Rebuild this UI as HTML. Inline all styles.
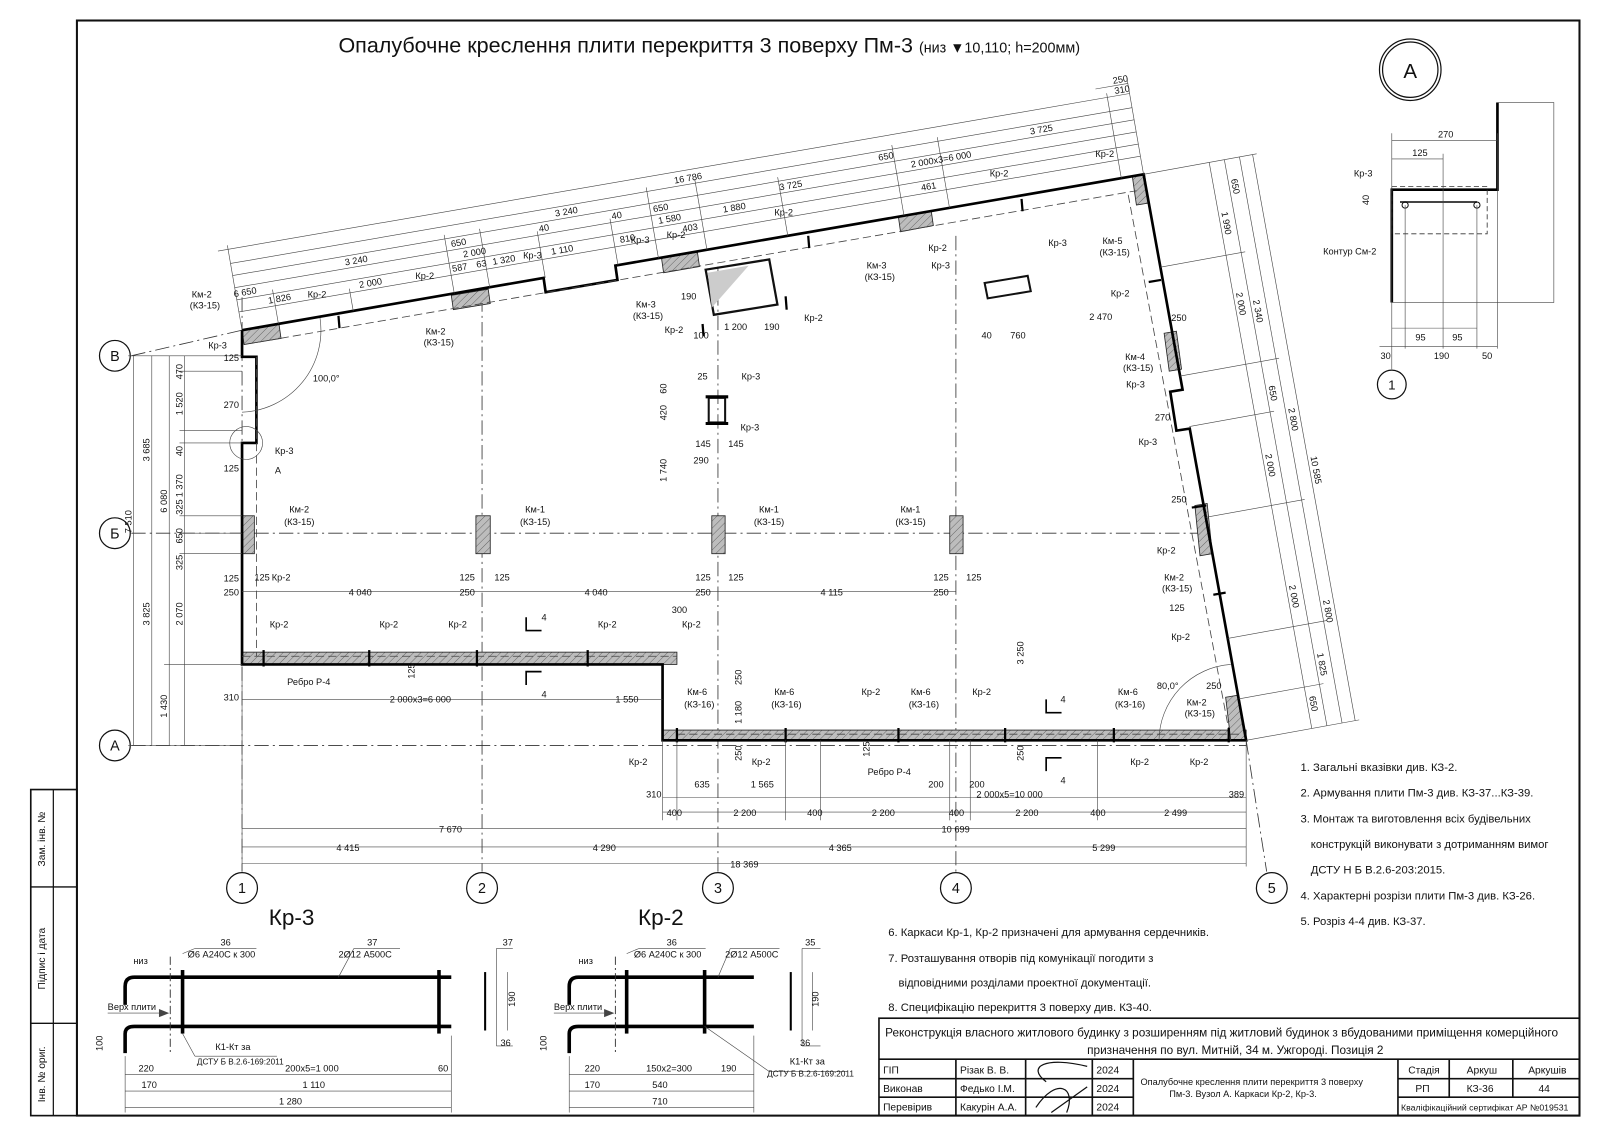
<!DOCTYPE html>
<html><head><meta charset="utf-8"><style>
html,body{margin:0;padding:0;background:#fff;}
svg{display:block;}
text{font-family:"Liberation Sans Narrow","Liberation Sans",sans-serif;fill:#111;}
.t{font-size:9px;}
.m{font-size:10px;}
.k{stroke:#111;fill:none;}
.th{stroke:#000;stroke-width:2.6;fill:none;}
.d{stroke:#444;stroke-width:0.6;fill:none;}
.ax{stroke:#333;stroke-width:0.8;stroke-dasharray:14 4 2 4;fill:none;}
.hat{fill:url(#hp);stroke:#222;stroke-width:0.8;}
</style></head><body>
<svg width="1600" height="1131" viewBox="0 0 1560 1103" preserveAspectRatio="none" xmlns="http://www.w3.org/2000/svg">
<defs>
<pattern id="hp" width="5" height="5" patternUnits="userSpaceOnUse" patternTransform="rotate(45)">
<rect width="5" height="5" fill="#bdbdbd"/><line x1="0" y1="0" x2="0" y2="5" stroke="#555" stroke-width="0.8"/></pattern>
</defs>
<rect width="1560" height="1103" fill="#fff"/>
<!-- frame -->
<rect x="75" y="20" width="1465" height="1068" class="k" stroke-width="2"/>
<rect x="30" y="770" width="45" height="318" class="k" stroke-width="1.6"/>
<line x1="52" y1="770" x2="52" y2="1088" class="k" stroke-width="1.2"/>
<line x1="30" y1="865" x2="75" y2="865" class="k" stroke-width="1.4"/>
<line x1="30" y1="998" x2="75" y2="998" class="k" stroke-width="1.4"/>
<text class="m" transform="translate(44,845) rotate(-90)">Зам. інв. №</text>
<text class="m" transform="translate(44,965) rotate(-90)">Підпис і дата</text>
<text class="m" transform="translate(44,1075) rotate(-90)">Інв. № ориг.</text>

<!-- title -->
<text x="330" y="51" style="font-size:21px">Опалубочне креслення плити перекриття 3 поверху Пм-3 <tspan style="font-size:14px">(низ ▼10,110; h=200мм)</tspan></text>

<!-- axes -->
<g class="ax">
<line x1="236" y1="290" x2="236" y2="850"/><line x1="470" y1="290" x2="470" y2="850"/>
<line x1="700" y1="260" x2="700" y2="850"/><line x1="932" y1="230" x2="932" y2="850"/>
<line x1="1215" y1="722" x2="1235" y2="850"/>
<line x1="128" y1="347" x2="236" y2="322"/>
<line x1="128" y1="520" x2="1180" y2="520"/>
<line x1="128" y1="727" x2="1215" y2="727"/>
</g>
<g class="k" stroke-width="1.2">
<circle cx="236" cy="866" r="15"/><circle cx="470" cy="866" r="15"/><circle cx="700" cy="866" r="15"/><circle cx="932" cy="866" r="15"/><circle cx="1240" cy="866" r="15"/>
<circle cx="112" cy="347" r="15"/><circle cx="112" cy="520" r="15"/><circle cx="112" cy="727" r="15"/>
</g>
<g style="font-size:14px" text-anchor="middle">
<text x="236" y="871">1</text><text x="470" y="871">2</text><text x="700" y="871">3</text><text x="932" y="871">4</text><text x="1240" y="871">5</text>
<text x="112" y="352">В</text><text x="112" y="525">Б</text><text x="112" y="732">А</text>
</g>

<!-- hatched beams and columns -->
<rect x="236" y="636" width="424" height="12" class="hat"/>
<rect x="646" y="712" width="569" height="10" class="hat"/>
<g class="hat">
<rect x="236" y="503" width="12" height="37"/><rect x="464" y="503" width="14" height="37"/>
<rect x="694" y="503" width="13" height="37"/><rect x="926" y="503" width="13" height="37"/>
<polygon points="236,322 272,316 274,330 238,336"/>
<polygon points="440,288 476,282 478,296 442,302"/>
<polygon points="645,252 680,246 682,260 647,266"/>
<polygon points="876,212 908,206 910,220 878,226"/>
<polygon points="1104,172 1116,170 1120,198 1108,200"/>
<polygon points="1135,325 1147,323 1152,360 1140,362"/>
<polygon points="1165,493 1177,491 1182,540 1170,542"/>
<polygon points="1195,680 1207,678 1215,722 1200,722"/>
</g>

<!-- slab outline -->
<polyline class="th" points="236,322 530,271 532,285 602,273 600,259 1115,170 1153,380 1141,382 1147,420 1160,418 1215,722 646,722 646,648 236,648 236,432 250,432 250,348 236,348 236,322"/>
<!-- hole -->
<polygon class="k" stroke-width="2.2" points="688,263 750,253 758,297 696,307"/>
<polygon fill="#ccc" points="690,266 730,259 694,300"/>
<polygon class="k" stroke-width="2" points="960,276 1002,269 1005,284 963,291"/>
<rect x="691" y="388" width="16" height="24" class="k" stroke-width="2"/>
<line x1="688" y1="387" x2="710" y2="387" stroke="#000" stroke-width="3"/>
<line x1="688" y1="413" x2="710" y2="413" stroke="#000" stroke-width="3"/>
<!-- dashed inner lines -->
<g stroke="#444" stroke-width="0.8" stroke-dasharray="8 4" fill="none">
<line x1="250" y1="334" x2="1108" y2="186"/>
<line x1="1100" y1="190" x2="1200" y2="722"/>
<line x1="250" y1="348" x2="250" y2="640"/>
<line x1="236" y1="640" x2="660" y2="640"/>
<line x1="660" y1="716" x2="1210" y2="716"/>
</g>
<!-- Kr tick marks -->
<g stroke="#000" stroke-width="2.2">
<line x1="330" y1="308" x2="331" y2="320"/><line x1="788" y1="230" x2="789" y2="242"/><line x1="996" y1="194" x2="997" y2="206"/>
<line x1="257" y1="634" x2="257" y2="650"/><line x1="360" y1="634" x2="360" y2="650"/><line x1="465" y1="634" x2="465" y2="650"/><line x1="573" y1="634" x2="573" y2="650"/>
<line x1="660" y1="710" x2="660" y2="724"/><line x1="766" y1="710" x2="766" y2="724"/><line x1="876" y1="710" x2="876" y2="724"/><line x1="980" y1="710" x2="980" y2="724"/><line x1="1086" y1="710" x2="1086" y2="724"/><line x1="1198" y1="710" x2="1198" y2="724"/>
<line x1="1120" y1="275" x2="1132" y2="273"/><line x1="1183" y1="580" x2="1195" y2="578"/><line x1="1162" y1="495" x2="1176" y2="493"/>
<line x1="766" y1="289" x2="767" y2="302"/><line x1="685" y1="316" x2="686" y2="328"/>
</g>

<!-- top rotated dims -->
<g transform="translate(236,322) rotate(-9.81)">
<g class="d">
<line x1="0" y1="-18" x2="892" y2="-18"/><line x1="0" y1="-30" x2="892" y2="-30"/><line x1="0" y1="-42" x2="892" y2="-42"/><line x1="0" y1="-54" x2="892" y2="-54"/><line x1="0" y1="-66" x2="892" y2="-66"/>
<line x1="-10" y1="-80" x2="892" y2="-80"/><line x1="860" y1="-90" x2="892" y2="-90"/>
<line x1="0" y1="0" x2="0" y2="-84"/><line x1="892" y1="0" x2="892" y2="-95"/><line x1="870" y1="0" x2="870" y2="-84"/>
<line x1="36" y1="0" x2="36" y2="-34"/><line x1="110" y1="0" x2="110" y2="-22"/><line x1="210" y1="0" x2="210" y2="-58"/><line x1="245" y1="0" x2="245" y2="-58"/><line x1="300" y1="0" x2="300" y2="-46"/><line x1="372" y1="0" x2="372" y2="-46"/><line x1="412" y1="0" x2="412" y2="-70"/><line x1="460" y1="0" x2="460" y2="-70"/><line x1="540" y1="0" x2="540" y2="-58"/><line x1="655" y1="0" x2="655" y2="-70"/><line x1="700" y1="0" x2="700" y2="-70"/>
</g>
<g class="t">
<text x="30" y="-21">1 826</text><text x="120" y="-21">2 000</text><text x="212" y="-21">587</text><text x="236" y="-21">63</text><text x="252" y="-21">1 320</text><text x="310" y="-21">1 110</text><text x="378" y="-21">810</text><text x="440" y="-21">403</text><text x="676" y="-21">461</text>
<text x="-2" y="-33">6 650</text><text x="225" y="-33">2 000</text><text x="302" y="-45">40</text><text x="374" y="-45">40</text><text x="418" y="-33">1 580</text><text x="482" y="-33">1 880</text><text x="670" y="-45">2 000x3=6 000</text>
<text x="110" y="-45">3 240</text><text x="215" y="-45">650</text><text x="320" y="-57">3 240</text><text x="415" y="-45">650</text><text x="540" y="-45">3 725</text><text x="640" y="-57">650</text><text x="790" y="-57">3 725</text>
<text x="440" y="-69">16 786</text><text x="878" y="-82">310</text><text x="878" y="-92">250</text>
</g>
</g>

<!-- right rotated dims -->
<g transform="translate(1115,170) rotate(79.73)">
<g class="d">
<line x1="0" y1="-65" x2="561" y2="-65"/><line x1="0" y1="-80" x2="561" y2="-80"/><line x1="0" y1="-95" x2="561" y2="-95"/><line x1="0" y1="-108" x2="561" y2="-108"/>
<line x1="0" y1="0" x2="0" y2="-112"/><line x1="561" y1="0" x2="561" y2="-112"/>
<line x1="92" y1="0" x2="92" y2="-84"/><line x1="200" y1="0" x2="200" y2="-98"/><line x1="250" y1="0" x2="250" y2="-84"/><line x1="340" y1="0" x2="340" y2="-98"/><line x1="460" y1="0" x2="460" y2="-98"/><line x1="520" y1="0" x2="520" y2="-84"/>
</g>
<g class="t">
<text x="20" y="-83">650</text><text x="50" y="-68">1 990</text><text x="140" y="-83">2 340</text><text x="130" y="-68">2 000</text><text x="225" y="-83">650</text>
<text x="250" y="-98">2 800</text><text x="290" y="-68">2 000</text><text x="420" y="-68">2 000</text><text x="440" y="-98">2 800</text><text x="490" y="-83">1 825</text><text x="530" y="-68">650</text>
<text x="300" y="-111">10 585</text>
</g>
</g>

<!-- left vertical dims -->
<g class="d">
<line x1="130" y1="347" x2="130" y2="727"/><line x1="148" y1="347" x2="148" y2="727"/><line x1="165" y1="347" x2="165" y2="727"/><line x1="180" y1="347" x2="180" y2="727"/>
<line x1="125" y1="347" x2="236" y2="347"/><line x1="125" y1="727" x2="236" y2="727"/><line x1="160" y1="648" x2="236" y2="648"/><line x1="175" y1="432" x2="236" y2="432"/><line x1="175" y1="520" x2="236" y2="520"/><line x1="175" y1="503" x2="236" y2="503"/><line x1="175" y1="540" x2="236" y2="540"/><line x1="175" y1="362" x2="236" y2="362"/><line x1="175" y1="420" x2="236" y2="420"/>
</g>
<g class="t">
<text transform="translate(128,520) rotate(-90)">7 510</text><text transform="translate(146,450) rotate(-90)">3 685</text><text transform="translate(146,610) rotate(-90)">3 825</text>
<text transform="translate(163,500) rotate(-90)">6 080</text><text transform="translate(163,700) rotate(-90)">1 430</text>
<text transform="translate(178,370) rotate(-90)">470</text><text transform="translate(178,405) rotate(-90)">1 520</text><text transform="translate(178,445) rotate(-90)">40</text><text transform="translate(178,485) rotate(-90)">1 370</text>
<text transform="translate(178,502) rotate(-90)">325</text><text transform="translate(178,530) rotate(-90)">650</text><text transform="translate(178,556) rotate(-90)">325</text><text transform="translate(178,610) rotate(-90)">2 070</text>
</g>

<!-- horizontal dims bottom -->
<g class="d">
<line x1="236" y1="577" x2="932" y2="577"/>
<line x1="236" y1="682" x2="646" y2="682"/>
<line x1="646" y1="778" x2="1215" y2="778"/><line x1="646" y1="792" x2="1215" y2="792"/>
<line x1="236" y1="808" x2="1215" y2="808"/><line x1="236" y1="826" x2="1215" y2="826"/><line x1="236" y1="842" x2="1215" y2="842"/>
<line x1="236" y1="650" x2="236" y2="850"/><line x1="646" y1="722" x2="646" y2="800"/><line x1="1215" y1="722" x2="1215" y2="845"/>
<line x1="660" y1="722" x2="660" y2="800"/><line x1="766" y1="722" x2="766" y2="800"/><line x1="800" y1="722" x2="800" y2="800"/><line x1="926" y1="722" x2="926" y2="800"/><line x1="946" y1="722" x2="946" y2="800"/><line x1="1070" y1="722" x2="1070" y2="800"/>
</g>
<g class="t">
<text x="218" y="567">125</text><text x="218" y="581">250</text><text x="340" y="581">4 040</text><text x="448" y="581">250</text><text x="570" y="581">4 040</text><text x="678" y="581">250</text><text x="800" y="581">4 115</text><text x="910" y="581">250</text>
<text x="448" y="566">125</text><text x="482" y="566">125</text><text x="678" y="566">125</text><text x="710" y="566">125</text><text x="910" y="566">125</text><text x="942" y="566">125</text><text x="248" y="566">125</text>
<text x="218" y="683">310</text><text x="380" y="685">2 000x3=6 000</text><text x="600" y="685">1 550</text>
<text x="630" y="778">310</text><text x="677" y="768">635</text><text x="732" y="768">1 565</text><text x="905" y="768">200</text><text x="945" y="768">200</text><text x="952" y="778">2 000x5=10 000</text><text x="1198" y="778">389</text>
<text x="650" y="796">400</text><text x="715" y="796">2 200</text><text x="787" y="796">400</text><text x="850" y="796">2 200</text><text x="925" y="796">400</text><text x="990" y="796">2 200</text><text x="1063" y="796">400</text><text x="1135" y="796">2 499</text>
<text x="428" y="812">7 670</text><text x="918" y="812">10 699</text>
<text x="328" y="830">4 415</text><text x="578" y="830">4 290</text><text x="808" y="830">4 365</text><text x="1065" y="830">5 299</text>
<text x="712" y="846">18 369</text>
<text x="655" y="598">300</text><text transform="translate(723,668) rotate(-90)">250</text><text transform="translate(723,706) rotate(-90)">1 180</text><text transform="translate(723,742) rotate(-90)">250</text>
<text transform="translate(998,648) rotate(-90)">3 250</text><text transform="translate(998,742) rotate(-90)">250</text><text transform="translate(404,662) rotate(-90)">125</text><text transform="translate(848,738) rotate(-90)">125</text>
<text x="1128" y="672">80,0°</text><text x="305" y="372">100,0°</text>
<text x="218" y="398">270</text><text x="218" y="460">125</text><text x="218" y="352">125</text>
<text transform="translate(650,410) rotate(-90)">420</text><text transform="translate(650,384) rotate(-90)">60</text><text transform="translate(650,470) rotate(-90)">1 740</text>
<text x="680" y="370">25</text><text x="678" y="436">145</text><text x="710" y="436">145</text><text x="676" y="452">290</text>
<text x="706" y="322">1 200</text><text x="745" y="322">190</text><text x="676" y="330">100</text><text x="664" y="292">190</text>
<text x="957" y="330">40</text><text x="985" y="330">760</text><text x="1062" y="312">2 470</text>
<text x="1126" y="410">270</text><text x="1142" y="490">250</text><text x="1140" y="596">125</text><text x="1176" y="672">250</text><text x="1142" y="313">250</text>
</g>
<!-- arc angles -->
<path d="M 236 402 A 80 80 0 0 0 312 310" class="d"/>
<path d="M 1130 722 A 75 75 0 0 1 1200 648" class="d"/>
<circle cx="240" cy="432" r="16" class="d"/>

<!-- section markers 4-4 -->
<g stroke="#000" stroke-width="1.6"><polyline points="513,602 513,615 528,615" fill="none"/><polyline points="513,668 513,655 528,655" fill="none"/>
<polyline points="1020,682 1020,695 1035,695" fill="none"/><polyline points="1020,752 1020,739 1035,739" fill="none"/></g>
<g class="t"><text x="528" y="605">4</text><text x="528" y="680">4</text><text x="1034" y="685">4</text><text x="1034" y="764">4</text></g>

<!-- labels -->
<g class="t">
<text x="187" y="290">Км-2</text><text x="185" y="301">(КЗ-15)</text><text x="203" y="340">Кр-3</text><text x="300" y="290">Кр-2</text>
<text x="405" y="272">Кр-2</text><text x="415" y="326">Км-2</text><text x="413" y="337">(КЗ-15)</text>
<text x="510" y="252">Кр-3</text><text x="615" y="237">Кр-3</text><text x="650" y="232">Кр-2</text><text x="620" y="300">Км-3</text><text x="617" y="311">(КЗ-15)</text><text x="648" y="325">Кр-2</text><text x="784" y="313">Кр-2</text>
<text x="755" y="210">Кр-2</text><text x="845" y="262">Км-3</text><text x="843" y="273">(КЗ-15)</text><text x="905" y="245">Кр-2</text><text x="908" y="262">Кр-3</text>
<text x="965" y="172">Кр-2</text><text x="1022" y="240">Кр-3</text><text x="1068" y="153">Кр-2</text><text x="1075" y="238">Км-5</text><text x="1072" y="249">(КЗ-15)</text>
<text x="1083" y="289">Кр-2</text><text x="1097" y="351">Км-4</text><text x="1095" y="362">(КЗ-15)</text><text x="1098" y="378">Кр-3</text><text x="1110" y="434">Кр-3</text>
<text x="1128" y="540">Кр-2</text><text x="1135" y="566">Км-2</text><text x="1133" y="577">(КЗ-15)</text><text x="1142" y="624">Кр-2</text>
<text x="1157" y="688">Км-2</text><text x="1155" y="699">(КЗ-15)</text><text x="1160" y="746">Кр-2</text><text x="1102" y="746">Кр-2</text>
<text x="1090" y="678">Км-6</text><text x="1087" y="690">(КЗ-16)</text><text x="888" y="678">Км-6</text><text x="886" y="690">(КЗ-16)</text><text x="840" y="678">Кр-2</text><text x="948" y="678">Кр-2</text>
<text x="755" y="678">Км-6</text><text x="752" y="690">(КЗ-16)</text><text x="670" y="678">Км-6</text><text x="667" y="690">(КЗ-16)</text><text x="733" y="746">Кр-2</text><text x="613" y="746">Кр-2</text><text x="846" y="756">Ребро Р-4</text>
<text x="263" y="612">Кр-2</text><text x="370" y="612">Кр-2</text><text x="437" y="612">Кр-2</text><text x="583" y="612">Кр-2</text><text x="665" y="612">Кр-2</text><text x="280" y="668">Ребро Р-4</text>
<text x="282" y="500">Км-2</text><text x="277" y="512">(КЗ-15)</text><text x="512" y="500">Км-1</text><text x="507" y="512">(КЗ-15)</text><text x="740" y="500">Км-1</text><text x="735" y="512">(КЗ-15)</text><text x="878" y="500">Км-1</text><text x="873" y="512">(КЗ-15)</text>
<text x="265" y="566">Кр-2</text><text x="268" y="443">Кр-3</text><text x="268" y="462">А</text><text x="723" y="370">Кр-3</text><text x="722" y="420">Кр-3</text>
</g>

<!-- detail A -->
<circle cx="1375" cy="68" r="30" class="k" stroke-width="1.2"/><circle cx="1375" cy="68" r="27" class="k" stroke-width="1.2"/>
<text x="1375" y="76" text-anchor="middle" style="font-size:20px">А</text>
<polyline class="th" points="1460,100 1460,185 1357,185 1357,295"/>
<polyline class="d" points="1460,100 1515,100 1515,295 1357,295"/>
<rect x="1357" y="182" width="93" height="46" fill="none" stroke="#333" stroke-width="0.8" stroke-dasharray="5 3"/>
<line x1="1365" y1="197" x2="1440" y2="197" stroke="#444" stroke-width="2"/>
<circle cx="1370" cy="200" r="3" class="k"/><circle cx="1440" cy="200" r="3" class="k"/>
<g class="d"><line x1="1357" y1="137" x2="1460" y2="137"/><line x1="1357" y1="155" x2="1407" y2="155"/><line x1="1357" y1="320" x2="1440" y2="320"/><line x1="1345" y1="338" x2="1460" y2="338"/>
<line x1="1357" y1="130" x2="1357" y2="360"/><line x1="1407" y1="150" x2="1407" y2="340"/><line x1="1370" y1="200" x2="1370" y2="340"/><line x1="1440" y1="200" x2="1440" y2="340"/><line x1="1460" y1="130" x2="1460" y2="340"/></g>
<g class="t"><text x="1402" y="134">270</text><text x="1377" y="152">125</text><text x="1320" y="172">Кр-3</text><text x="1290" y="248">Контур См-2</text><text x="1380" y="332">95</text><text x="1416" y="332">95</text><text x="1346" y="350">30</text><text x="1398" y="350">190</text><text x="1445" y="350">50</text>
<text transform="translate(1335,200) rotate(-90)">40</text></g>
<circle cx="1357" cy="375" r="14" class="k" stroke-width="1.2"/><text x="1357" y="380" text-anchor="middle" style="font-size:13px">1</text>

<!-- notes -->
<g style="font-size:11px">
<text x="1268" y="752">1. Загальні вказівки див. КЗ-2.</text>
<text x="1268" y="777">2. Армування плити Пм-3 див. КЗ-37...КЗ-39.</text>
<text x="1268" y="802">3.  Монтаж   та   виготовлення   всіх   будівельних</text>
<text x="1278" y="827">конструкцій  виконувати  з  дотриманням  вимог</text>
<text x="1278" y="852">ДСТУ Н Б В.2.6-203:2015.</text>
<text x="1268" y="877">4. Характерні розрізи плити Пм-3 див. КЗ-26.</text>
<text x="1268" y="902">5. Розріз 4-4 див. КЗ-37.</text>
<text x="866" y="913">6. Каркаси Кр-1, Кр-2 призначені для армування сердечників.</text>
<text x="866" y="938">7.  Розташування  отворів   під  комунікації  погодити  з</text>
<text x="876" y="962">відповідними розділами проектної документації.</text>
<text x="866" y="986">8. Специфікацію перекриття 3 поверху див. КЗ-40.</text>
</g>

<!-- Kr-3 / Kr-2 -->
<text x="262" y="902" style="font-size:22px">Кр-3</text><text x="622" y="902" style="font-size:22px">Кр-2</text>
<g stroke="#000" stroke-width="3.5" fill="none">
<path d="M122 980 V962 Q122 953 131 953 H440"/><path d="M122 1027 V1008 Q122 1001 131 1001 H440"/>
<line x1="178" y1="946" x2="178" y2="1008"/><line x1="428" y1="946" x2="428" y2="1008"/>
<path d="M555 980 V962 Q555 953 564 953 H735"/><path d="M555 1027 V1008 Q555 1001 564 1001 H735"/>
<line x1="611" y1="946" x2="611" y2="1008"/><line x1="687" y1="946" x2="687" y2="1008"/>
<line x1="473" y1="948" x2="473" y2="1005" stroke-width="2"/><line x1="771" y1="948" x2="771" y2="1005" stroke-width="2"/>
</g>
<g stroke="#333" stroke-width="0.9" stroke-dasharray="8 3 2 3"><line x1="166" y1="933" x2="166" y2="1027"/><line x1="600" y1="933" x2="600" y2="1027"/></g>
<polygon points="155,984 165,988 155,992" fill="#444"/><polygon points="589,984 599,988 589,992" fill="#444"/>
<g class="d">
<line x1="105" y1="988" x2="155" y2="988"/><line x1="540" y1="988" x2="589" y2="988"/>
<line x1="122" y1="1048" x2="440" y2="1048"/><line x1="122" y1="1064" x2="440" y2="1064"/><line x1="122" y1="1080" x2="440" y2="1080"/>
<line x1="555" y1="1048" x2="735" y2="1048"/><line x1="555" y1="1064" x2="735" y2="1064"/><line x1="555" y1="1080" x2="735" y2="1080"/>
<line x1="122" y1="1030" x2="122" y2="1085"/><line x1="440" y1="1010" x2="440" y2="1085"/><line x1="555" y1="1030" x2="555" y2="1085"/><line x1="735" y1="1010" x2="735" y2="1085"/>
<line x1="178" y1="930" x2="190" y2="925"/><line x1="190" y1="925" x2="250" y2="925"/><line x1="330" y1="953" x2="345" y2="925"/><line x1="345" y1="925" x2="390" y2="925"/>
<line x1="611" y1="930" x2="623" y2="925"/><line x1="623" y1="925" x2="688" y2="925"/><line x1="700" y1="953" x2="712" y2="925"/><line x1="712" y1="925" x2="760" y2="925"/>
<line x1="178" y1="1008" x2="190" y2="1030"/><line x1="190" y1="1030" x2="270" y2="1030"/><line x1="687" y1="1001" x2="750" y2="1045"/><line x1="750" y1="1045" x2="825" y2="1045"/>
<line x1="484" y1="925" x2="500" y2="925"/><line x1="484" y1="925" x2="484" y2="1020"/><line x1="484" y1="1020" x2="500" y2="1020"/><line x1="782" y1="925" x2="800" y2="925"/><line x1="782" y1="925" x2="782" y2="1020"/><line x1="782" y1="1020" x2="800" y2="1020"/>
<line x1="495" y1="948" x2="495" y2="1005"/><line x1="792" y1="948" x2="792" y2="1005"/>
</g>
<g class="t">
<text x="215" y="922">36</text><text x="183" y="934">Ø6 А240С к 300</text><text x="358" y="922">37</text><text x="330" y="934">2Ø12 А500С</text>
<text x="650" y="922">36</text><text x="618" y="934">Ø6 А240С к 300</text><text x="785" y="922">35</text><text x="707" y="934">2Ø12 А500С</text>
<text x="130" y="940">низ</text><text x="564" y="940">низ</text><text x="105" y="985">Верх плити</text><text x="540" y="985">Верх плити</text>
<text x="210" y="1024">К1-Кт за</text><text x="192" y="1038" style="font-size:8px">ДСТУ Б В.2.6-169:2011</text>
<text x="770" y="1038">К1-Кт за</text><text x="748" y="1050" style="font-size:8px">ДСТУ Б В.2.6-169:2011</text>
<text x="490" y="922">37</text><text x="488" y="1020">36</text><text x="780" y="1020">36</text>
<text transform="translate(502,982) rotate(-90)">190</text><text transform="translate(798,982) rotate(-90)">190</text>
<text transform="translate(100,1025) rotate(-90)">100</text><text transform="translate(533,1025) rotate(-90)">100</text>
<text x="135" y="1045">220</text><text x="278" y="1045">200x5=1 000</text><text x="427" y="1045">60</text><text x="138" y="1061">170</text><text x="295" y="1061">1 110</text><text x="272" y="1077">1 280</text>
<text x="570" y="1045">220</text><text x="630" y="1045">150x2=300</text><text x="703" y="1045">190</text><text x="570" y="1061">170</text><text x="636" y="1061">540</text><text x="636" y="1077">710</text>
</g>

<!-- title block -->
<g class="k" stroke-width="1.6">
<rect x="857" y="993" width="683" height="95"/>
<line x1="857" y1="1033" x2="1540" y2="1033"/>
<line x1="857" y1="1052" x2="1105" y2="1052"/><line x1="857" y1="1070" x2="1105" y2="1070"/>
<line x1="1363" y1="1052" x2="1540" y2="1052"/><line x1="1363" y1="1070" x2="1540" y2="1070"/>
<line x1="932" y1="1033" x2="932" y2="1088"/><line x1="1000" y1="1033" x2="1000" y2="1088"/><line x1="1065" y1="1033" x2="1065" y2="1088"/><line x1="1105" y1="1033" x2="1105" y2="1088"/>
<line x1="1363" y1="1033" x2="1363" y2="1088"/><line x1="1413" y1="1033" x2="1413" y2="1070"/><line x1="1475" y1="1033" x2="1475" y2="1070"/>
</g>
<path d="M1020 1055 C1000 1040 1020 1030 1060 1040 M1010 1080 C1030 1050 1050 1060 1040 1085 M1025 1085 L1060 1060" class="k" stroke-width="1.2"/>
<g style="font-size:11.5px">
<text x="863" y="1011">Реконструкція власного житлового будинку з розширенням під житловий будинок з вбудованими приміщення комерційного</text>
<text x="1060" y="1028">призначення по вул. Митній, 34 м. Ужгороді. Позиція 2</text>
</g>
<g style="font-size:10px">
<text x="861" y="1047">ГІП</text><text x="936" y="1047">Різак В. В.</text><text x="1069" y="1047">2024</text>
<text x="861" y="1065">Виконав</text><text x="936" y="1065">Федько І.М.</text><text x="1069" y="1065">2024</text>
<text x="861" y="1083">Перевірив</text><text x="936" y="1083">Какурін А.А.</text><text x="1069" y="1083">2024</text>
<text x="1112" y="1058" style="font-size:9px">Опалубочне креслення плити перекриття 3 поверху</text>
<text x="1140" y="1070" style="font-size:9px">Пм-3. Вузол А. Каркаси Кр-2, Кр-3.</text>
<text x="1373" y="1047">Стадія</text><text x="1430" y="1047">Аркуш</text><text x="1490" y="1047">Аркушів</text>
<text x="1380" y="1065">РП</text><text x="1430" y="1065">КЗ-36</text><text x="1500" y="1065">44</text>
<text x="1366" y="1083" style="font-size:8.5px">Кваліфікаційний сертифікат АР №019531</text>
</g>
</svg>
</body></html>
